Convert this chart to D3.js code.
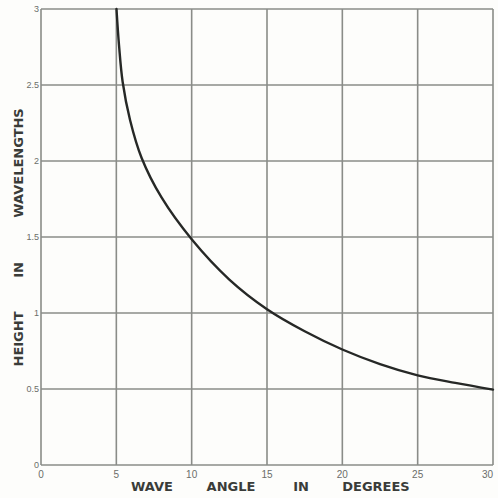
<!DOCTYPE html>
<html>
<head>
<meta charset="utf-8">
<script src="https://cdn.jsdelivr.net/npm/d3@7/dist/d3.min.js"></script>
<style>
  html, body { margin: 0; padding: 0; background: #fdfdfb; }
  svg { display: block; }
</style>
</head>
<body>
<script>
// Height of antenna (wavelengths) versus wave angle (degrees)
const angles  = [5.01, 5.18, 5.42, 5.91, 6.68, 8.0, 10, 12.5, 15, 17.5, 20, 22.5, 25, 27.5, 30];
const heights = [3.0, 2.76, 2.52, 2.27, 2.02, 1.76, 1.485, 1.22, 1.025, 0.88, 0.76, 0.664, 0.59, 0.54, 0.496];

const xTicks = [0, 5, 10, 15, 20, 25, 30];
const xTickLabels = ["0", "5", "10", "15", "20", "25", "30"];
const yTicks = [0, 0.5, 1, 1.5, 2, 2.5, 3];
const yTickLabels = ["0", "0.5", "1", "1.5", "2", "2.5", "3"];

const xTitleWords = ["WAVE", "ANGLE", "IN", "DEGREES"];
const yTitleWords = ["HEIGHT", "IN", "WAVELENGTHS"];

const W = 498, H = 498;
const margin = { left: 41, right: 5, top: 9, bottom: 33 };

const svg = d3.select("body").append("svg").attr("width", W).attr("height", H);
svg.append("rect").attr("width", W).attr("height", H).attr("fill", "#fdfdfb");

const x = d3.scaleLinear().domain([0, 30]).range([margin.left, W - margin.right]);
const y = d3.scaleLinear().domain([0, 3]).range([H - margin.bottom, margin.top]);

const gridColor = "#8a8c88";

// Grid lines
const g = svg.append("g");
g.selectAll("line.vx").data(xTicks).join("line")
  .attr("x1", d => x(d)).attr("x2", d => x(d))
  .attr("y1", y(0)).attr("y2", y(3))
  .attr("stroke", gridColor).attr("stroke-width", 1.6);
g.selectAll("line.hy").data(yTicks).join("line")
  .attr("x1", x(0)).attr("x2", x(30))
  .attr("y1", d => y(d)).attr("y2", d => y(d))
  .attr("stroke", gridColor).attr("stroke-width", 1.6);

// Tick labels
const tickFont = "'Liberation Sans Narrow', 'Liberation Sans', sans-serif";
svg.append("g").selectAll("text").data(xTicks).join("text")
  .attr("x", d => x(d)).attr("y", y(0) + 13)
  .attr("text-anchor", (d, i) => i === xTicks.length - 1 ? "end" : "middle")
  .attr("font-family", tickFont).attr("font-size", 10)
  .attr("fill", "#6b6d69")
  .text((d, i) => xTickLabels[i]);

svg.append("g").selectAll("text").data(yTicks).join("text")
  .attr("x", x(0) - 2).attr("y", d => y(d) + 3)
  .attr("text-anchor", "end")
  .attr("font-family", tickFont).attr("font-size", 9)
  .attr("fill", "#6b6d69")
  .text((d, i) => yTickLabels[i]);

// Curve
const pts = angles.map((a, i) => [a, heights[i]]);
const line = d3.line()
  .x(d => x(d[0])).y(d => y(d[1]))
  .curve(d3.curveCatmullRom.alpha(0.5));
svg.append("path")
  .datum(pts)
  .attr("d", line)
  .attr("fill", "none")
  .attr("stroke", "#262826")
  .attr("stroke-width", 2.4)
  .attr("stroke-linecap", "round");

// Axis titles
const titleFont = "'DejaVu Sans', sans-serif";
const xWordPos = [152, 231, 301, 376];
svg.append("g").selectAll("text").data(xTitleWords).join("text")
  .attr("x", (d, i) => xWordPos[i]).attr("y", 491)
  .attr("text-anchor", "middle")
  .attr("font-family", titleFont).attr("font-size", 13).attr("font-weight", "bold")
  .attr("fill", "#3a3c39")
  .text(d => d);

const yWordPos = [339, 270, 163];
svg.append("g").selectAll("text").data(yTitleWords).join("text")
  .attr("transform", (d, i) => `translate(23,${yWordPos[i]}) rotate(-90)`)
  .attr("text-anchor", "middle")
  .attr("font-family", titleFont).attr("font-size", 13).attr("font-weight", "bold")
  .attr("fill", "#3a3c39")
  .text(d => d);
</script>
</body>
</html>
